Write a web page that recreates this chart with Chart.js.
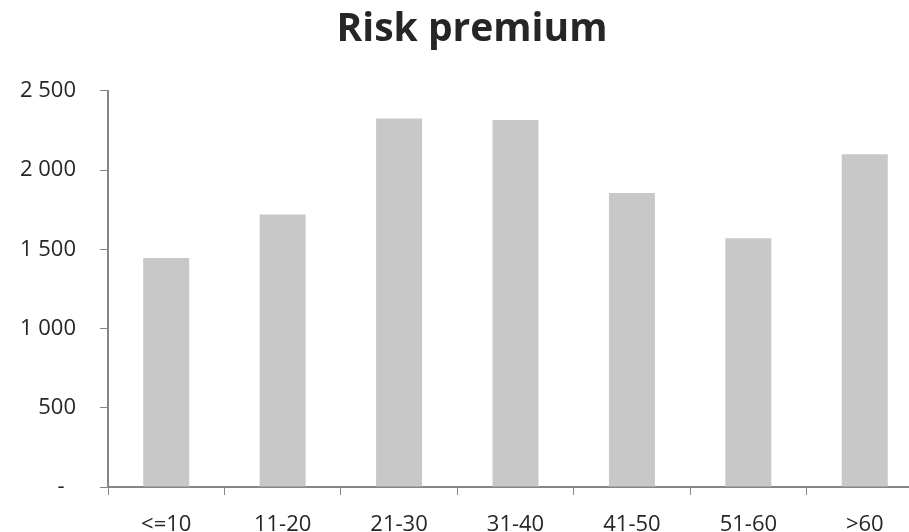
<!DOCTYPE html>
<html>
<head>
<meta charset="utf-8">
<script src="https://cdn.jsdelivr.net/npm/chart.js@4.4.0/dist/chart.umd.min.js"></script>
<style>
  html, body { margin: 0; padding: 0; background: #fff; overflow: hidden; }
  #wrap { width: 930px; height: 532px; }
</style>
</head>
<body>
<div id="wrap"><canvas id="risk-chart" width="930" height="532"></canvas></div>
<script>
const ageGroups = ["<=10", "11-20", "21-30", "31-40", "41-50", "51-60", ">60"];
const riskPremium = [1445, 1720, 2325, 2315, 1855, 1570, 2100];
const yTicks = [0, 500, 1000, 1500, 2000, 2500];

const axisColor = "#868686";
const labelFont = { family: "'Open Sans', sans-serif", size: 22 };

const formatTick = (v) => {
  if (v === 0) return "-  ";
  return String(v).replace(/\B(?=(\d{3})+(?!\d))/g, " ");
};

new Chart(document.getElementById("risk-chart").getContext("2d"), {
  type: "bar",
  data: {
    labels: ageGroups,
    datasets: [
      {
        label: "Risk premium",
        data: riskPremium,
        backgroundColor: "#c8c8c8",
        borderWidth: 0,
        barPercentage: 0.395,
        categoryPercentage: 1,
      },
    ],
  },
  options: {
    responsive: false,
    animation: false,
    // left padding only moves the title centre; the y axis still sits at x=108
    layout: { padding: { top: 0, right: 7, left: 21, bottom: 0 } },
    plugins: {
      legend: { display: false },
      tooltip: { enabled: false },
      title: {
        display: true,
        text: "Risk premium",
        color: "#262626",
        font: { family: "'Open Sans', sans-serif", size: 39, weight: "bold", lineHeight: 1.2 },
        padding: { top: 6, bottom: 38 },
      },
    },
    scales: {
      x: {
        afterFit: (scale) => { scale.height = 45; },
        grid: {
          display: true,
          drawOnChartArea: false,
          drawTicks: true,
          tickLength: 8,
          tickColor: axisColor,
          offset: true,
        },
        border: { color: axisColor, width: 2 },
        ticks: { color: "#262626", font: labelFont, padding: 17, maxRotation: 0 },
      },
      y: {
        min: 0,
        max: 2500,
        afterFit: (scale) => { scale.width = 87; },
        afterBuildTicks: (scale) => { scale.ticks = yTicks.map((v) => ({ value: v })); },
        grid: {
          display: true,
          drawOnChartArea: false,
          drawTicks: true,
          tickLength: 8,
          tickColor: axisColor,
        },
        border: { color: axisColor, width: 2 },
        ticks: { color: "#262626", font: labelFont, padding: 24, callback: formatTick },
      },
    },
  },
});
</script>
</body>
</html>
